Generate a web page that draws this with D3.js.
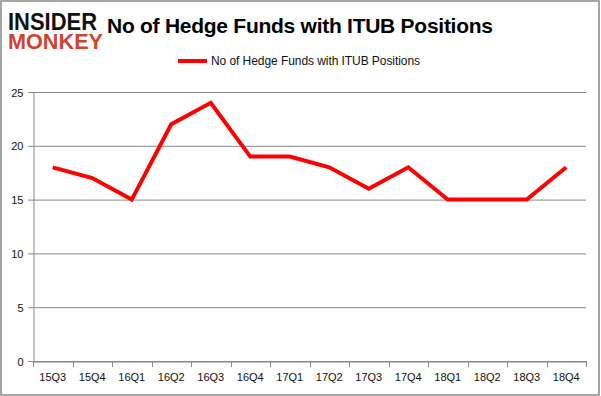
<!DOCTYPE html>
<html lang="en">
<head>
    <title>No of Hedge Funds with ITUB Positions</title>
    <script src="https://d3js.org/d3.v7.min.js"></script>
    <style>
        body { margin: 0; background: #fff; }
        text { font-family: "Liberation Sans", Arial, sans-serif; }
    </style>
</head>
<body>
<svg id="chart"></svg>
<script>
    // quarters and hedge fund counts
    const quarters = ["15Q3","15Q4","16Q1","16Q2","16Q3","16Q4","17Q1","17Q2","17Q3","17Q4","18Q1","18Q2","18Q3","18Q4"];
    const funds = [18, 17, 15, 22, 24, 19, 19, 18, 16, 18, 15, 15, 15, 18];
    const yTicks = [0, 5, 10, 15, 20, 25];
    const seriesName = "No of Hedge Funds with ITUB Positions";

    let width = 601, height = 396,
        margin = {top: 92, right: 15, bottom: 35, left: 33};

    let svg = d3.select("#chart")
        .attr("width", width)
        .attr("height", height);

    // outer frame
    svg.append("rect")
        .attr("x", 1).attr("y", 1)
        .attr("width", 598).attr("height", 394)
        .attr("fill", "#fff")
        .attr("stroke", "#888").attr("stroke-width", 1.5);

    let x = d3.scaleBand()
        .domain(quarters)
        .range([margin.left, width - margin.right]);

    let y = d3.scaleLinear()
        .domain([0, 25])
        .range([height - margin.bottom, margin.top]);

    // gridlines
    svg.append("g")
        .selectAll("line")
        .data(yTicks)
        .join("line")
            .attr("x1", margin.left - 5)
            .attr("x2", width - margin.right)
            .attr("y1", d => y(d) + 0.5)
            .attr("y2", d => y(d) + 0.5)
            .attr("stroke", "#888");

    // y axis
    let yAxis = svg.append("g")
        .attr("transform", `translate(${margin.left + 0.5},0.5)`)
        .call(d3.axisLeft(y).tickValues(yTicks).tickSize(0).tickPadding(10));
    yAxis.select(".domain").attr("stroke", "#888");
    yAxis.selectAll("text")
        .attr("font-size", 11)
        .attr("fill", "#111")
        .attr("font-family", "Liberation Sans, Arial, sans-serif");

    // x axis
    let xAxis = svg.append("g")
        .attr("transform", `translate(0,${y(0) + 0.5})`)
        .call(d3.axisBottom(x).tickSize(0).tickPadding(12));
    xAxis.select(".domain").attr("stroke", "#888");
    xAxis.selectAll("text")
        .attr("font-size", 11)
        .attr("fill", "#111")
        .attr("font-family", "Liberation Sans, Arial, sans-serif");

    // category boundary ticks
    let bounds = quarters.map(q => x(q)).concat([x.range()[1]]);
    svg.append("g")
        .selectAll("line")
        .data(bounds)
        .join("line")
            .attr("x1", d => Math.round(d) + 0.5)
            .attr("x2", d => Math.round(d) + 0.5)
            .attr("y1", y(0))
            .attr("y2", y(0) + 6)
            .attr("stroke", "#888");

    // series line
    let line = d3.line()
        .x((d, i) => x(quarters[i]) + x.bandwidth() / 2)
        .y(d => y(d));

    svg.append("path")
        .datum(funds)
        .attr("d", line)
        .attr("fill", "none")
        .attr("stroke", "#ff0000")
        .attr("stroke-width", 4)
        .attr("stroke-linejoin", "miter");

    // title
    svg.append("text")
        .attr("x", 107).attr("y", 33)
        .attr("font-size", 21)
        .attr("font-weight", "bold")
        .attr("fill", "#000")
        .attr("textLength", 386)
        .text(seriesName);

    // legend
    svg.append("line")
        .attr("x1", 178).attr("x2", 207)
        .attr("y1", 61).attr("y2", 61)
        .attr("stroke", "#ff0000")
        .attr("stroke-width", 4);
    svg.append("text")
        .attr("x", 211).attr("y", 65)
        .attr("font-size", 12)
        .attr("fill", "#111")
        .attr("textLength", 209)
        .text(seriesName);

    // logo
    svg.append("text")
        .attr("x", 8).attr("y", 30)
        .attr("font-size", 23)
        .attr("font-weight", 900)
        .attr("font-family", "DejaVu Sans, sans-serif")
        .attr("fill", "#111")
        .attr("textLength", 89)
        .attr("lengthAdjust", "spacingAndGlyphs")
        .text("INSIDER");
    svg.append("text")
        .attr("x", 8).attr("y", 49)
        .attr("font-size", 22)
        .attr("font-weight", 900)
        .attr("font-family", "DejaVu Sans, sans-serif")
        .attr("fill", "#d2432f")
        .attr("textLength", 95)
        .attr("lengthAdjust", "spacingAndGlyphs")
        .text("MONKEY");
</script>
</body>
</html>
